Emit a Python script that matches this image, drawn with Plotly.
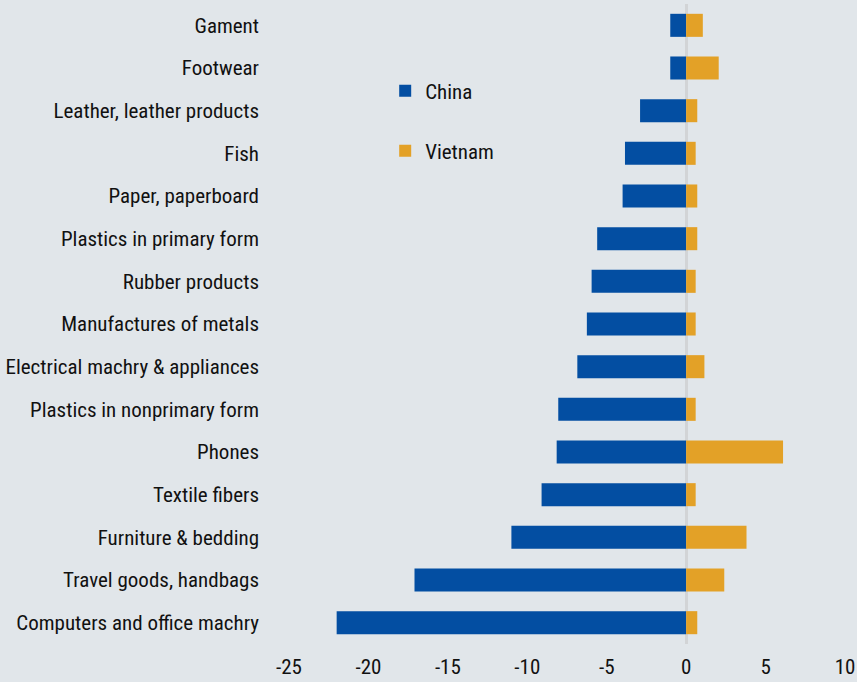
import plotly.graph_objects as go

categories = ["Gament", "Footwear", "Leather, leather products", "Fish", "Paper, paperboard",
              "Plastics in primary form", "Rubber products", "Manufactures of metals",
              "Electrical machry & appliances", "Plastics in nonprimary form", "Phones",
              "Textile fibers", "Furniture & bedding", "Travel goods, handbags",
              "Computers and office machry"]
china = [-1.0, -1.0, -2.9, -3.85, -4.0, -5.6, -5.95, -6.25, -6.85, -8.05, -8.15, -9.1, -11.0, -17.1, -22.0]
vietnam = [1.05, 2.05, 0.7, 0.6, 0.7, 0.7, 0.6, 0.6, 1.15, 0.6, 6.1, 0.6, 3.8, 2.4, 0.7]
x_ticks = [-25, -20, -15, -10, -5, 0, 5, 10]

FONT = "Liberation Sans Narrow, Arial Narrow, Roboto Condensed, sans-serif"
BG = "#e1e6ea"

fig = go.Figure()
fig.add_trace(go.Bar(y=categories, x=china, orientation="h", name="China",
                     marker=dict(color="#034ea2", line=dict(width=0)), legend="legend"))
fig.add_trace(go.Bar(y=categories, x=vietnam, orientation="h", name="Vietnam",
                     marker=dict(color="#e3a127", line=dict(width=0)), legend="legend2"))

fig.update_layout(
    width=857, height=682,
    paper_bgcolor=BG, plot_bgcolor=BG,
    margin=dict(l=289, r=12, t=4, b=38),
    barmode="relative", bargap=0.46,
    showlegend=True,
    font=dict(family=FONT, size=21, color="#111111"),
    legend=dict(x=0.173, y=0.896, xanchor="left", yanchor="top", bgcolor="rgba(0,0,0,0)",
                font=dict(family=FONT, size=21, color="#111111")),
    legend2=dict(x=0.173, y=0.8023, xanchor="left", yanchor="top", bgcolor="rgba(0,0,0,0)",
                 font=dict(family=FONT, size=21, color="#111111")),
    xaxis=dict(range=[-25, 10], tickvals=x_ticks, ticktext=[str(v) for v in x_ticks],
               showgrid=False, zeroline=True, zerolinecolor="#d2d4d6", zerolinewidth=3,
               showline=False, ticks="", ticklabelstandoff=8, layer="above traces",
               tickfont=dict(family=FONT, size=21, color="#111111"),
               automargin=False, fixedrange=True),
    yaxis=dict(autorange="reversed", showgrid=False, zeroline=False, showline=False,
               ticks="", ticklabelstandoff=29, automargin=False, fixedrange=True),
)

fig.write_html("out.html", config={"displayModeBar": False},
               post_script="document.body.style.margin='0';document.body.style.background='" + BG + "';")
